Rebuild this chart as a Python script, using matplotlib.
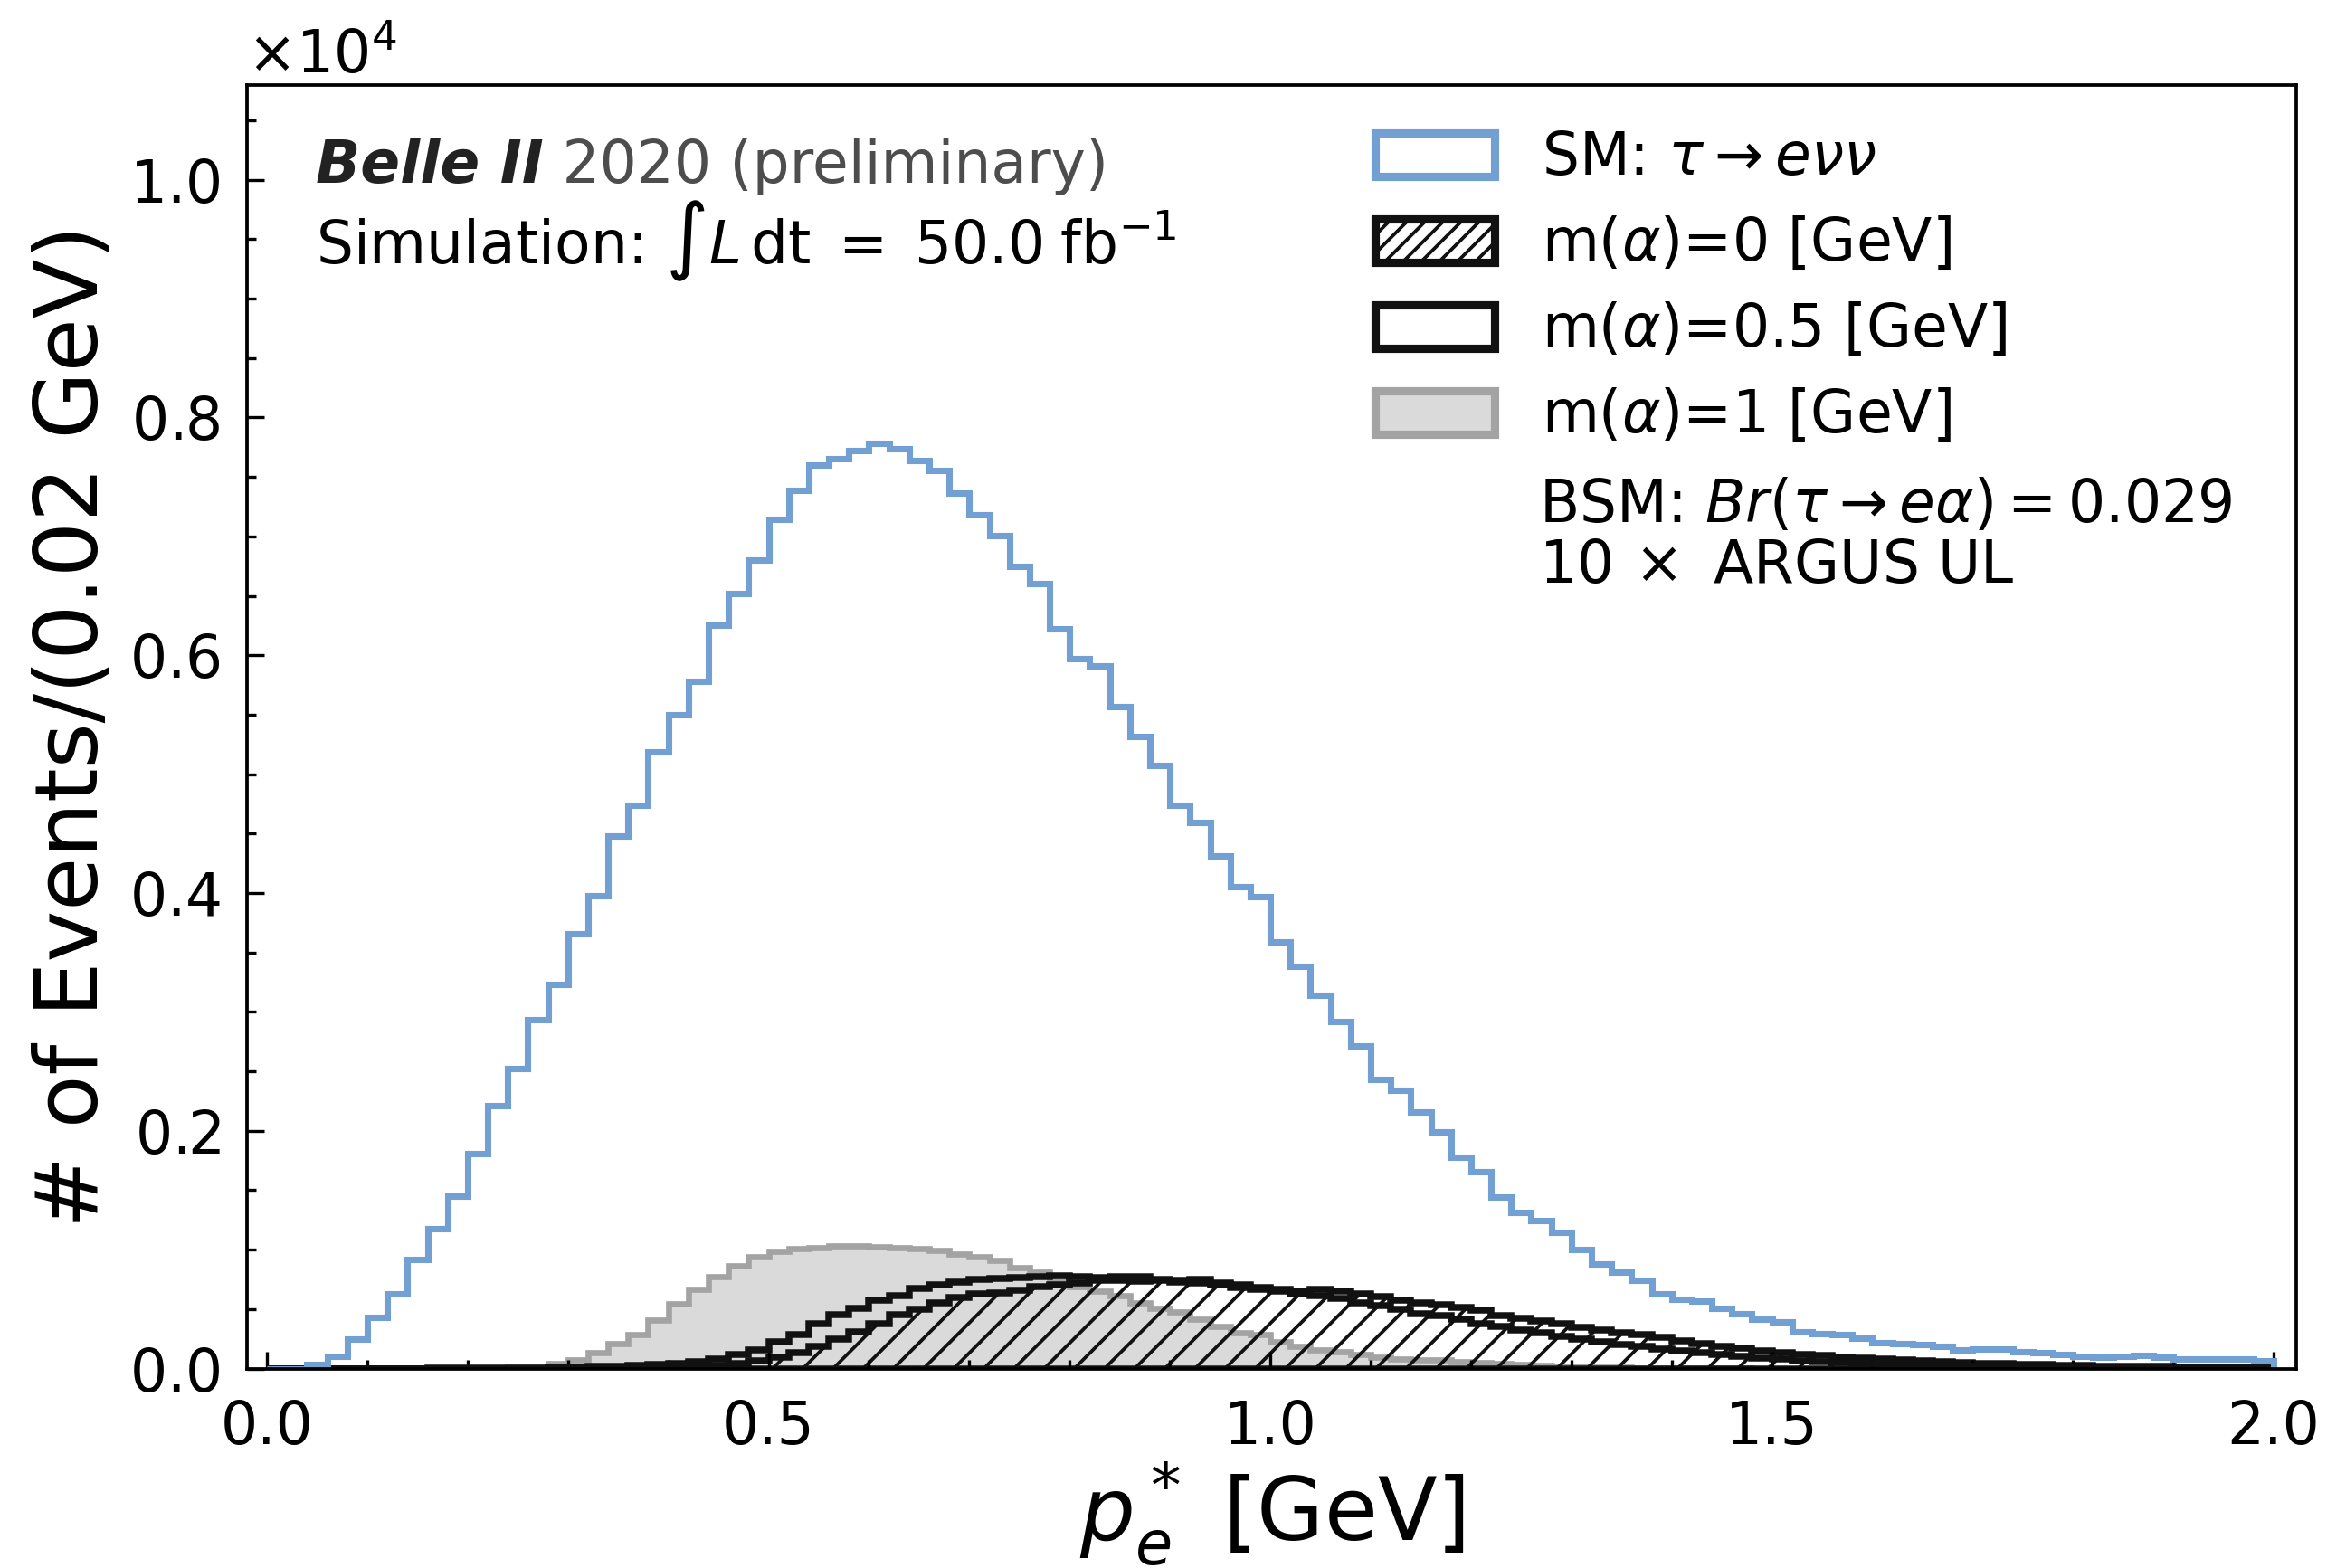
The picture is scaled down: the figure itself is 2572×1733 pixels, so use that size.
import numpy as np
import matplotlib.pyplot as plt
from matplotlib.ticker import MultipleLocator
from matplotlib.patches import Patch

# bin edges: 100 bins of 0.02 GeV from 0 to 2 GeV
edges = np.round(np.linspace(0.0, 2.0, 101), 2)
centers = 0.5 * (edges[:-1] + edges[1:])

# SM: tau -> e nu nu
sm = [0, 0, 35, 100, 250, 430, 630, 920, 1180, 1450,
      1810, 2215, 2520, 2935, 3230, 3660, 3975, 4480, 4740, 5190,
      5500, 5780, 6250, 6520, 6800, 7140, 7390, 7600, 7650, 7725,
      7785, 7740, 7635, 7555, 7365, 7180, 7010, 6750, 6605, 6220,
      5970, 5910, 5570, 5320, 5075, 4740, 4595, 4310, 4055, 3970,
      3590, 3380, 3140, 2923, 2717, 2435, 2340, 2160, 1993, 1775,
      1655, 1445, 1317, 1248, 1149, 998, 880, 808, 743, 629,
      585, 564, 504, 464, 419, 390, 312, 291, 283, 252,
      218, 213, 205, 187, 153, 161, 161, 143, 130, 117,
      104, 96, 100, 109, 96, 83, 83, 80, 78, 68]

# m(alpha) = 0 GeV
m0 = [0, 0, 0, 0, 0, 0, 0, 0, 0, 0,
      0, 0, 0, 0, 0, 3, 5, 7, 10, 13,
      17, 22, 30, 45, 65, 96, 134, 185, 248, 312,
      375, 451, 502, 553, 599, 629, 634, 660, 693, 705,
      718, 743, 743, 736, 743, 743, 751, 718, 705, 685,
      667, 650, 667, 650, 629, 604, 578, 553, 540, 515,
      489, 446, 426, 400, 375, 345, 324, 299, 286, 261,
      235, 210, 185, 172, 152, 134, 120, 108, 96, 86,
      78, 70, 62, 56, 50, 45, 40, 36, 32, 28,
      25, 22, 20, 18, 16, 14, 12, 11, 10, 9]

# m(alpha) = 0.5 GeV
m05 = [0, 0, 0, 0, 0, 0, 0, 0, 1, 2,
       3, 4, 6, 8, 10, 13, 17, 22, 28, 35,
       45, 58, 83, 121, 159, 223, 286, 375, 451, 507,
       578, 616, 675, 705, 731, 751, 761, 769, 776, 781,
       776, 769, 770, 775, 751, 731, 718, 705, 685, 667,
       650, 629, 616, 591, 553, 527, 497, 464, 446, 413,
       375, 355, 324, 299, 273, 248, 228, 202, 185, 167,
       146, 131, 116, 101, 90, 78, 68, 60, 52, 45,
       40, 35, 30, 26, 22, 19, 16, 14, 12, 10,
       9, 8, 7, 6, 5, 4, 4, 3, 3, 2]

# m(alpha) = 1 GeV
m1 = [0, 0, 0, 0, 0, 0, 0, 0, 0, 2,
      4, 6, 10, 15, 40, 70, 130, 210, 285, 408,
      545, 667, 770, 865, 942, 985, 1010, 1020, 1030, 1035,
      1023, 1015, 1010, 997, 964, 941, 913, 852, 812, 760,
      693, 650, 616, 553, 507, 477, 413, 355, 299, 286,
      223, 185, 159, 141, 121, 96, 83, 75, 70, 57,
      50, 42, 35, 28, 22, 18, 14, 10, 8, 6,
      4, 3, 2, 1, 0, 0, 0, 0, 0, 0,
      0, 0, 0, 0, 0, 0, 0, 0, 0, 0,
      0, 0, 0, 0, 0, 0, 0, 0, 0, 0]

labels = [r'SM: $\tau\rightarrow e\nu\nu$', r'm($\alpha$)=0 [GeV]',
          r'm($\alpha$)=0.5 [GeV]', r'm($\alpha$)=1 [GeV]']

blue = '#72a0d2'
black = '#111111'
fs = 15.5

plt.rcParams['font.family'] = 'DejaVu Sans'
plt.rcParams['font.size'] = fs
plt.rcParams['hatch.linewidth'] = 0.9
plt.rcParams['axes.linewidth'] = 0.9

fig = plt.figure(figsize=(2572 / 300, 1733 / 300), dpi=300)
ax = fig.add_axes([0.1061, 0.1272, 0.8807, 0.8188])

ax.hist(centers, bins=edges, weights=m1, histtype='stepfilled',
        facecolor='#dadada', edgecolor='#a3a3a3', lw=1.6)
ax.hist(centers, bins=edges, weights=m0, histtype='stepfilled',
        facecolor='none', edgecolor=black, hatch='///', lw=1.8)
ax.hist(centers, bins=edges, weights=m05, histtype='step', color=black, lw=1.8)
ax.hist(centers, bins=edges, weights=sm, histtype='step', color=blue, lw=1.7)

ax.set_xlim(-0.02, 2.0225)
ax.set_ylim(0, 10800)
ax.xaxis.set_major_locator(MultipleLocator(0.5))
ax.xaxis.set_minor_locator(MultipleLocator(0.1))
ax.yaxis.set_major_locator(MultipleLocator(2000))
ax.yaxis.set_minor_locator(MultipleLocator(500))
ax.ticklabel_format(axis='y', style='sci', scilimits=(0, 0), useMathText=True)
ax.tick_params(which='both', direction='in', top=False, right=False, width=0.8)
ax.tick_params(which='major', length=4.5, labelsize=fs)
ax.tick_params(axis='x', which='major', pad=8)
ax.tick_params(axis='y', which='major', pad=7)
ax.tick_params(which='minor', length=2.5)
ax.yaxis.get_offset_text().set_fontsize(fs)

ax.set_xlabel(r'$p_e^*$ [GeV]', fontsize=23, labelpad=1)
ax.set_ylabel('# of Events/(0.02 GeV)', fontsize=23, labelpad=3.5)

# experiment label
t1 = ax.text(0.0336, 0.9365, 'Belle II', transform=ax.transAxes,
             fontweight='bold', style='italic', color='#222222', va='center')
ax.annotate(' 2020 (preliminary)', xy=(1, 0), xycoords=t1, va='bottom',
            color='#4d4d4d')
ax.text(0.0336, 0.878, r'Simulation: $\int L\,\mathrm{dt}\;=\;50.0\;\mathrm{fb}^{-1}$',
        transform=ax.transAxes, va='center')

handles = [Patch(facecolor='none', edgecolor=blue, lw=2.2),
           Patch(facecolor='none', edgecolor=black, hatch='/////', lw=2.2),
           Patch(facecolor='none', edgecolor=black, lw=2.2),
           Patch(facecolor='#dadada', edgecolor='#a3a3a3', lw=2.2)]
ax.legend(handles, labels, loc='upper left', bbox_to_anchor=(0.5505, 0.965),
          frameon=False, borderpad=0, borderaxespad=0, handlelength=2.05,
          handleheight=0.76, handletextpad=0.8, labelspacing=0.48)

ax.text(0.6305, 0.672, r'BSM: $Br(\tau\rightarrow e\alpha) = 0.029$',
        transform=ax.transAxes, va='center')
ax.text(0.6305, 0.625, r'10$\,\times$ ARGUS UL', transform=ax.transAxes, va='center')

fig.savefig('out.png', dpi=300)
